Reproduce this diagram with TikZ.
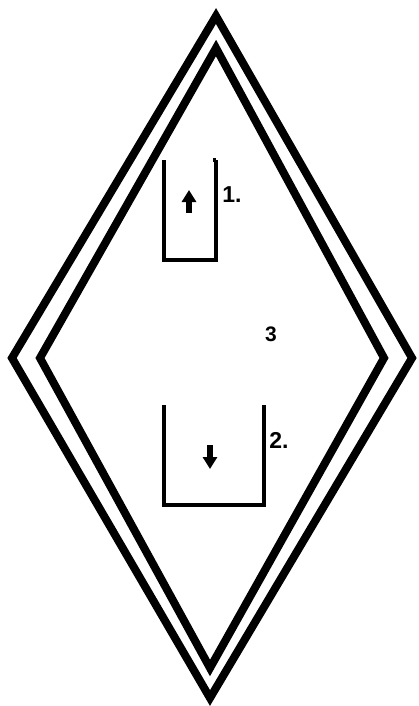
\documentclass[tikz,border=0pt]{standalone}
\usepackage{fontspec}
\setmainfont{Liberation Sans}
\usetikzlibrary{arrows.meta}
\begin{document}
\begin{tikzpicture}[x=1pt,y=-1pt,
  frame/.style={line width=8pt, line join=miter, miter limit=10},
  wall/.style={line width=4.5pt},
  lbl/.style={font=\bfseries\fontsize{23}{23}\selectfont, inner sep=0pt},
  arr/.style={line width=5.5pt, -{Triangle[width=14pt,length=12pt]}}]
\useasboundingbox (0,0) rectangle (418,706);
% outer diamond
\coordinate (ot) at (216,16);
\coordinate (or) at (412,358);
\coordinate (ob) at (210,698);
\coordinate (ol) at (12,358);
\draw[frame] (ot) -- (or) -- (ob) -- (ol) -- cycle;
% inner diamond
\coordinate (it) at (216,48);
\coordinate (ir) at (384,358);
\coordinate (ib) at (210,668);
\coordinate (il) at (40,358);
\draw[frame] (it) -- (ir) -- (ib) -- (il) -- cycle;
% box 1
\coordinate (a1) at (164,160);
\coordinate (a2) at (164,260);
\coordinate (a3) at (216,260);
\coordinate (a4) at (216,160);
\draw[wall] (a1) -- (a2) -- (a3) -- (a4);
\draw[wall] (a4) -- ++(-3,0);
\coordinate (u1) at (189,213);
\coordinate (u2) at (189,190);
\draw[arr] (u1) -- (u2);
\node[lbl] (l1) at (232,195) {1.};
% box 2
\coordinate (b1) at (164,405);
\coordinate (b2) at (164,505);
\coordinate (b3) at (264,505);
\coordinate (b4) at (264,405);
\draw[wall] (b1) -- (b2) -- (b3) -- (b4);
\coordinate (d1) at (210,445);
\coordinate (d2) at (210,469);
\draw[arr] (d1) -- (d2);
\node[lbl] (l2) at (279,440) {2.};
\node[lbl, font=\bfseries\fontsize{21}{21}\selectfont] (l3) at (271,334) {3};
\end{tikzpicture}
\end{document}
